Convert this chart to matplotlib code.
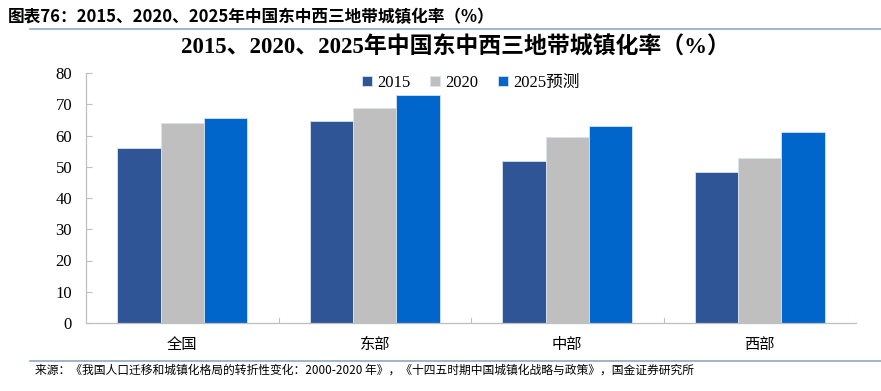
import matplotlib
matplotlib.use("Agg")
import matplotlib.pyplot as plt
import numpy as np
from matplotlib.lines import Line2D

plt.rcParams['font.family'] = ['Liberation Serif', 'Noto Sans CJK SC', 'DejaVu Sans']

categories = ['全国', '东部', '中部', '西部']
series_names = ['2015', '2020', '2025预测']
v2015 = [56.1, 64.5, 51.8, 48.4]
v2020 = [63.9, 68.7, 59.5, 52.8]
v2025 = [65.5, 73.0, 62.9, 61.1]
yticks = [0, 10, 20, 30, 40, 50, 60, 70, 80]

colors = ['#2F5597', '#BFBFBF', '#0066CC']
series = [v2015, v2020, v2025]

fig = plt.figure(figsize=(8.81, 3.91), dpi=100)
ax = fig.add_axes([86/881, 1-323/391, (856-86)/881, (323-73)/391])

x = np.arange(len(categories))
w = 0.225
for i, (vals, c, name) in enumerate(zip(series, colors, series_names)):
    ax.bar(x + (i-1)*w, vals, width=w, color=c, edgecolor='#D9E2F0', linewidth=0.6, label=name, zorder=2)

ax.set_xlim(-0.5, len(categories)-0.5)
ax.set_ylim(0, 80)
ax.set_yticks(yticks)
ax.set_yticklabels([str(t) for t in yticks], fontsize=12, family=['Liberation Serif'])
ax.set_xticks(x)
ax.set_xticklabels(categories, fontsize=11, family=['Noto Sans CJK SC'])
ax.tick_params(axis='x', length=0, pad=9)
ax.tick_params(axis='y', direction='in', length=4, color='#BFBFBF', pad=10)
for b in np.arange(0.5, len(categories)-0.5, 1.0):
    ax.axvline(b, ymin=0, ymax=0.02, color='#BFBFBF', lw=0.8)
ax.axvline(len(categories)-0.5, ymin=0, ymax=0.02, color='#BFBFBF', lw=0.8)
for s in ['top', 'right']:
    ax.spines[s].set_visible(False)
for s in ['left', 'bottom']:
    ax.spines[s].set_color('#BFBFBF')
    ax.spines[s].set_linewidth(0.9)

leg = ax.legend(loc='upper center', bbox_to_anchor=(0.5, 1.052), ncol=3, frameon=False,
                handlelength=0.6, handleheight=0.6, handletextpad=0.3,
                columnspacing=1.2, prop={'family': ['Liberation Serif', 'Noto Sans CJK SC'], 'size': 12})

fig.text(455/881, 1-48/391, '2015、2020、2025年中国东中西三地带城镇化率（%）', ha='center', va='center',
         fontsize=16.5, fontweight='bold', family=['Liberation Serif', 'Noto Sans CJK SC'])

fig.text(8/881, 1-17/391, '图表76：2015、2020、2025年中国东中西三地带城镇化率（%）', ha='left', va='center',
         fontsize=12, fontweight='bold', fontstyle='italic', family=['Noto Sans CJK SC'])

fig.add_artist(Line2D([30/881, 1.0], [1-29/391, 1-29/391], color='#8EA9C1', lw=1.2))
fig.add_artist(Line2D([30/881, 1.0], [1-361/391, 1-361/391], color='#8EA9C1', lw=1.2))

fig.text(35/881, 1-370/391, '来源：《我国人口迁移和城镇化格局的转折性变化：2000-2020 年》，《十四五时期中国城镇化战略与政策》，国金证券研究所',
         ha='left', va='center', fontsize=8.5, family=['Noto Sans CJK SC'])

fig.savefig('out.png', dpi=100)
